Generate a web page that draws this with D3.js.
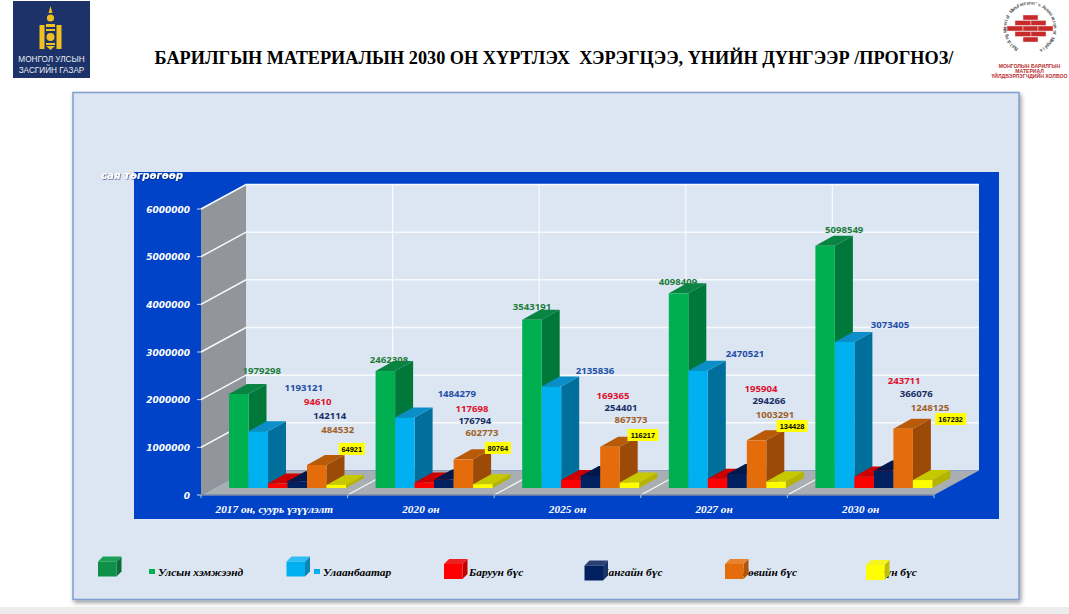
<!DOCTYPE html>
<html>
<head>
<meta charset="utf-8">
<script src="https://cdn.jsdelivr.net/npm/d3@7"></script>
<style>
  html, body { margin: 0; padding: 0; background: #fff; overflow: hidden; }
  svg { display: block; }
</style>
</head>
<body>
<div id="chart"></div>
<script>
// Data
const categories = ["2017 он, суурь үзүүлэлт", "2020 он", "2025 он", "2027 он", "2030 он"];
const seriesNames = ["Улсын хэмжээнд", "Улаанбаатар", "Баруун бүс", "Хангайн бүс", "Төвийн бүс", "Зүүн бүс"];
const national = [1979298, 2462308, 3543191, 4098409, 5098549];
const ulaanbaatar = [1193121, 1484279, 2135836, 2470521, 3073405];
const western = [94610, 117698, 169365, 195904, 243711];
const khangai = [142114, 176794, 254401, 294266, 366076];
const central = [484532, 602773, 867373, 1003291, 1248125];
const eastern = [64921, 80764, 116217, 134428, 167232];
const seriesValues = [national, ulaanbaatar, western, khangai, central, eastern];
const yTicks = [0, 1000000, 2000000, 3000000, 4000000, 5000000, 6000000];

// colours per series: front, top, side, label
const colors = [
  { front: "#00b050", top: "#0a8442", side: "#00783a", label: "#1c7c3c" },
  { front: "#00b0f0", top: "#0c8fc8", side: "#006f9c", label: "#1f4fa8" },
  { front: "#ff0000", top: "#cc0000", side: "#a00000", label: "#e0102c" },
  { front: "#002060", top: "#00184c", side: "#001a4e", label: "#1a2f66" },
  { front: "#e46c0a", top: "#b85a08", side: "#9c4a08", label: "#a0602a" },
  { front: "#ffff00", top: "#c8c800", side: "#b4b400", label: "#000" }
];
const legendColors = [
  { front: "#0e9048", top: "#1aa055", side: "#0a6e38" },
  { front: "#00b0f0", top: "#30bdf4", side: "#0a86b8" },
  { front: "#ff0000", top: "#ee2020", side: "#c00000" },
  { front: "#002060", top: "#2a4070", side: "#1a3468" },
  { front: "#e46c0a", top: "#e88430", side: "#b05408" },
  { front: "#ffff00", top: "#f4f420", side: "#c0c000" }
];

// hand placed data labels in the original: offset from the bar's top centre
const labelDx = [
  [23, 3.6, 0, -0.6, 19],
  [45.5, 52, 43.5, 47, 45.3],
  [40, 47.6, 42, 43.4, 40],
  [32.5, 31, 30.5, 32, 32.6],
  [21, 18.6, 21, 18.4, 26.8],
  [15.5, 15, 13.5, 16, 28]
];
const labelDy = [
  [-23, -12, -12.7, -12, -16],
  [-44, -23.5, -15.6, -16.7, -18],
  [-82.5, -74.4, -84, -89.7, -96],
  [-66, -59.6, -68, -74, -77.6],
  [-35, -26.4, -26.8, -26.3, -21.7],
  [-36, -36.2, -47.5, -55.6, -61]
];

const width = 1069, height = 614;
const depth = { x: 45, y: -24.5 };     // depth of the chart box
const barDepth = { x: 18, y: -10 };
const serif = "'Liberation Serif', serif";

const svg = d3.select("#chart").append("svg")
  .attr("width", width)
  .attr("height", height)
  .attr("viewBox", `0 0 ${width} ${height}`);

const defs = svg.append("defs");
const shadow = defs.append("filter").attr("id", "shadow")
  .attr("x", "-2%").attr("y", "-2%").attr("width", "104%").attr("height", "104%");
shadow.append("feDropShadow").attr("dx", 1.5).attr("dy", 2.5).attr("stdDeviation", 2)
  .attr("flood-color", "#000").attr("flood-opacity", 0.4);
const textGlow = defs.append("filter").attr("id", "textShadow");
textGlow.append("feDropShadow").attr("dx", 0.6).attr("dy", 0.6).attr("stdDeviation", 0.3)
  .attr("flood-color", "#001a66").attr("flood-opacity", 0.8);

// grey strip at the bottom of the slide
svg.append("rect").attr("x", 0).attr("y", 607).attr("width", width).attr("height", 7).attr("fill", "#ececec");

// panel
svg.append("rect").attr("x", 73).attr("y", 92.5).attr("width", 946).attr("height", 507)
  .attr("fill", "#dce6f2").attr("stroke", "#7f9dd0").attr("stroke-width", 1.5)
  .attr("filter", "url(#shadow)");

// title
svg.append("text").attr("x", 554).attr("y", 64).attr("text-anchor", "middle")
  .attr("font-family", serif).attr("font-weight", "bold").attr("font-size", 18.25)
  .attr("fill", "#000")
  .style("white-space", "pre")
  .text("БАРИЛГЫН МАТЕРИАЛЫН 2030 ОН ХҮРТЛЭХ  ХЭРЭГЦЭЭ, ҮНИЙН ДҮНГЭЭР /ПРОГНОЗ/");

// chart background
svg.append("rect").attr("x", 134).attr("y", 172).attr("width", 865).attr("height", 347).attr("fill", "#0043c8");

// scales
const x0 = d3.scaleBand().domain(categories).range([201, 934]);
const yAxis = d3.scaleLinear().domain([0, 6000000]).range([495, 209]);
const yBar = d3.scaleLinear().domain([0, 6000000]).range([488, 203]);
const x1 = d3.scaleBand().domain(seriesNames).range([28, 145]);

const left = x0.range()[0], right = x0.range()[1];

// back wall
const g = svg.append("g");
g.append("rect")
  .attr("x", left + depth.x).attr("y", yAxis(6000000) + depth.y)
  .attr("width", right - left).attr("height", yAxis(0) - yAxis(6000000))
  .attr("fill", "#dce6f2");

// left wall
g.append("path")
  .attr("d", d3.line()([
    [left, yAxis(6000000)], [left + depth.x, yAxis(6000000) + depth.y],
    [left + depth.x, yAxis(0) + depth.y], [left, yAxis(0)]
  ]))
  .attr("fill", "#92969b");

// floor
g.append("path")
  .attr("d", d3.line()([
    [left, yAxis(0)], [left + depth.x, yAxis(0) + depth.y],
    [right + depth.x, yAxis(0) + depth.y], [right, yAxis(0)]
  ]))
  .attr("fill", "#a9aeb2");

// gridlines
g.selectAll(".grid-h").data(yTicks.slice(1)).join("path")
  .attr("class", "grid-h")
  .attr("d", d => d3.line()([
    [left, yAxis(d)], [left + depth.x, yAxis(d) + depth.y], [right + depth.x, yAxis(d) + depth.y]
  ]))
  .attr("fill", "none").attr("stroke", "#f8fafd").attr("stroke-width", 1.5);

g.selectAll(".grid-v").data(categories.slice(1)).join("path")
  .attr("class", "grid-v")
  .attr("d", d => d3.line()([
    [x0(d), yAxis(0)], [x0(d) + depth.x, yAxis(0) + depth.y], [x0(d) + depth.x, yAxis(6000000) + depth.y]
  ]))
  .attr("fill", "none").attr("stroke", "#f8fafd").attr("stroke-width", 1.2);

// axis lines
g.append("line").attr("x1", left).attr("x2", right).attr("y1", yAxis(0)).attr("y2", yAxis(0))
  .attr("stroke", "#7d8aa6").attr("stroke-width", 1.5);
g.selectAll(".tick-x").data(categories.concat(["end"])).join("line")
  .attr("class", "tick-x")
  .attr("x1", d => d === "end" ? right : x0(d)).attr("x2", d => d === "end" ? right : x0(d))
  .attr("y1", yAxis(0)).attr("y2", yAxis(0) + 3)
  .attr("stroke", "#b8c4dc");
g.selectAll(".tick-y").data(yTicks).join("line")
  .attr("class", "tick-y")
  .attr("x1", left - 4).attr("x2", left)
  .attr("y1", d => yAxis(d)).attr("y2", d => yAxis(d))
  .attr("stroke", "#c8d2e8");

// y tick labels
g.selectAll(".ylabel").data(yTicks).join("text")
  .attr("class", "ylabel")
  .attr("x", left - 11).attr("y", d => yAxis(d) + 3.5)
  .attr("text-anchor", "end")
  .attr("font-family", "'DejaVu Sans', sans-serif").attr("font-style", "italic").attr("font-weight", "bold")
  .attr("font-size", 9).attr("fill", "#fff")
  .text(d => d);

// unit label
svg.append("text").attr("x", 101).attr("y", 179)
  .attr("font-family", "'DejaVu Sans', sans-serif").attr("font-style", "italic").attr("font-weight", "bold")
  .attr("font-size", 10.2).attr("fill", "#fff").attr("filter", "url(#textShadow)")
  .text("сая төгрөгөөр");

// category labels
g.selectAll(".xlabel").data(categories).join("text")
  .attr("class", "xlabel")
  .attr("x", d => x0(d) + x0.bandwidth() / 2)
  .attr("y", 513)
  .attr("text-anchor", "middle")
  .attr("font-family", serif).attr("font-style", "italic").attr("font-weight", "bold")
  .attr("font-size", 11.3).attr("fill", "#fff")
  .text(d => d);

// 3d box: side, top, front
function box(sel, x, y, w, h, c, dx, dy) {
  sel.append("path")
    .attr("d", d3.line()([[x + w, y], [x + w + dx, y + dy], [x + w + dx, y + h + dy], [x + w, y + h]]))
    .attr("fill", c.side);
  sel.append("path")
    .attr("d", d3.line()([[x, y], [x + dx, y + dy], [x + w + dx, y + dy], [x + w, y]]))
    .attr("fill", c.top);
  sel.append("rect").attr("x", x).attr("y", y).attr("width", w).attr("height", h).attr("fill", c.front);
}

// bars, left to right so each one sits in front of its neighbour's side
categories.forEach((cat, i) => {
  const group = g.append("g").attr("transform", `translate(${x0(cat)},0)`);
  seriesNames.forEach((name, s) => {
    const v = seriesValues[s][i];
    box(group, x1(name), yBar(v), x1.bandwidth(), yBar(0) - yBar(v), colors[s], barDepth.x, barDepth.y);
  });
});

// data labels
const labelLayer = svg.append("g");
categories.forEach((cat, i) => {
  seriesNames.forEach((name, s) => {
    const v = seriesValues[s][i];
    const cx = x0(cat) + x1(name) + x1.bandwidth() / 2 + labelDx[s][i];
    const cy = yBar(v) + labelDy[s][i];
    if (s === 5) {
      const w = v >= 100000 ? 31 : 26;
      labelLayer.append("rect").attr("x", cx - w / 2).attr("y", cy - 6).attr("width", w).attr("height", 12).attr("fill", "#ffff00");
      labelLayer.append("text").attr("x", cx).attr("y", cy + 2.6)
        .attr("text-anchor", "middle").attr("font-family", "'Liberation Sans', sans-serif")
        .attr("font-weight", "bold").attr("font-size", 7.4).attr("fill", "#000")
        .text(v);
    } else {
      labelLayer.append("text").attr("x", cx).attr("y", cy + 3.5)
        .attr("text-anchor", "middle").attr("font-family", "'Noto Sans', sans-serif")
        .attr("font-weight", "bold").attr("font-size", 9.6).attr("fill", colors[s].label)
        .text(v);
    }
  });
});

// legend
const legendCube = [[98, 561.5], [286.5, 561.5], [444, 564], [584.5, 565.5], [725, 564], [866, 565]];
const legendText = [158, 323, 469, 601, 741, 874];
const legendMark = [149, 314, null, null, null, null];
const legend = svg.append("g");
seriesNames.forEach((name, s) => {
  legend.append("text").attr("x", legendText[s]).attr("y", 576)
    .attr("font-family", serif).attr("font-style", "italic").attr("font-weight", "bold")
    .attr("font-size", 11.4).attr("fill", "#000")
    .text(name);
  if (legendMark[s] !== null) {
    legend.append("rect").attr("x", legendMark[s]).attr("y", 569).attr("width", 6).attr("height", 5).attr("fill", colors[s].front);
  }
  box(legend.append("g"), legendCube[s][0], legendCube[s][1], 18.5, 15, legendColors[s], 5, -5);
});

// left logo
const logoL = svg.append("g");
logoL.append("rect").attr("x", 13).attr("y", 1).attr("width", 77).attr("height", 77).attr("fill", "#1c3268");
const gold = "#f0c020";
logoL.append("rect").attr("x", 39.5).attr("y", 25).attr("width", 5).attr("height", 24).attr("fill", gold);
logoL.append("rect").attr("x", 56.5).attr("y", 25).attr("width", 5).attr("height", 24).attr("fill", gold);
logoL.append("circle").attr("cx", 50.5).attr("cy", 18).attr("r", 3.6).attr("fill", gold);
logoL.append("path").attr("d", "M50.5 6 L52.5 13 L48.5 13 Z").attr("fill", gold);
logoL.append("rect").attr("x", 46).attr("y", 24).attr("width", 9).attr("height", 3).attr("fill", gold);
logoL.append("rect").attr("x", 46).attr("y", 29).attr("width", 9).attr("height", 2).attr("fill", gold);
logoL.append("circle").attr("cx", 50.5).attr("cy", 37).attr("r", 4).attr("fill", gold);
logoL.append("rect").attr("x", 46).attr("y", 43).attr("width", 9).attr("height", 2).attr("fill", gold);
logoL.append("path").attr("d", "M46 46 L55 46 L50.5 50 Z").attr("fill", gold);
logoL.selectAll(".logo-text").data(["МОНГОЛ УЛСЫН", "ЗАСГИЙН ГАЗАР"]).join("text")
  .attr("class", "logo-text")
  .attr("x", 51.5).attr("y", (d, i) => 62 + i * 10.5)
  .attr("text-anchor", "middle").attr("font-family", "'Liberation Sans', sans-serif")
  .attr("font-size", 8.2).attr("fill", "#e8ecf4")
  .text(d => d);

// right logo: ring of text, one text element with a position per glyph
const logoR = svg.append("g");
const ringText = "Building Material Manufacturer's Association of Mongolia";
const ringAngle = d3.scaleLinear().domain([0, ringText.length - 1]).range([-150, 150]);
const ringChars = Array.from(ringText);
logoR.append("text")
  .attr("x", ringChars.map((c, i) => (1030 + 23.5 * Math.sin(ringAngle(i) * Math.PI / 180)).toFixed(1)).join(" "))
  .attr("y", ringChars.map((c, i) => (28 - 23.5 * Math.cos(ringAngle(i) * Math.PI / 180)).toFixed(1)).join(" "))
  .attr("rotate", ringChars.map((c, i) => ringAngle(i).toFixed(1)).join(" "))
  .attr("font-family", "'Liberation Sans', sans-serif").attr("font-weight", "bold")
  .attr("font-size", 4.8).attr("fill", "#5a5a5a")
  .text(ringText);
const brickRows = [
  [1023, 15, 15],
  [1015, 20.5, 16], [1031, 20.5, 15],
  [1007, 26, 16], [1023, 26, 15], [1038, 26, 15],
  [1015, 31.5, 16], [1031, 31.5, 15],
  [1023, 37, 15]
];
logoR.selectAll(".brick").data(brickRows).join("rect")
  .attr("class", "brick")
  .attr("x", d => d[0]).attr("y", d => d[1]).attr("width", d => d[2]).attr("height", 5)
  .attr("fill", "#c62a2a").attr("stroke", "#eedddd").attr("stroke-width", 0.5);
logoR.selectAll(".logo-cap").data(["МОНГОЛЫН БАРИЛГЫН", "МАТЕРИАЛ", "ҮЙЛДВЭРЛЭГЧДИЙН ХОЛБОО"]).join("text")
  .attr("class", "logo-cap")
  .attr("x", 1029.5).attr("y", (d, i) => 68 + i * 5)
  .attr("text-anchor", "middle").attr("font-family", "'Liberation Sans', sans-serif")
  .attr("font-weight", "bold").attr("font-size", 5.1).attr("fill", "#b83030")
  .text(d => d);
</script>
</body>
</html>
